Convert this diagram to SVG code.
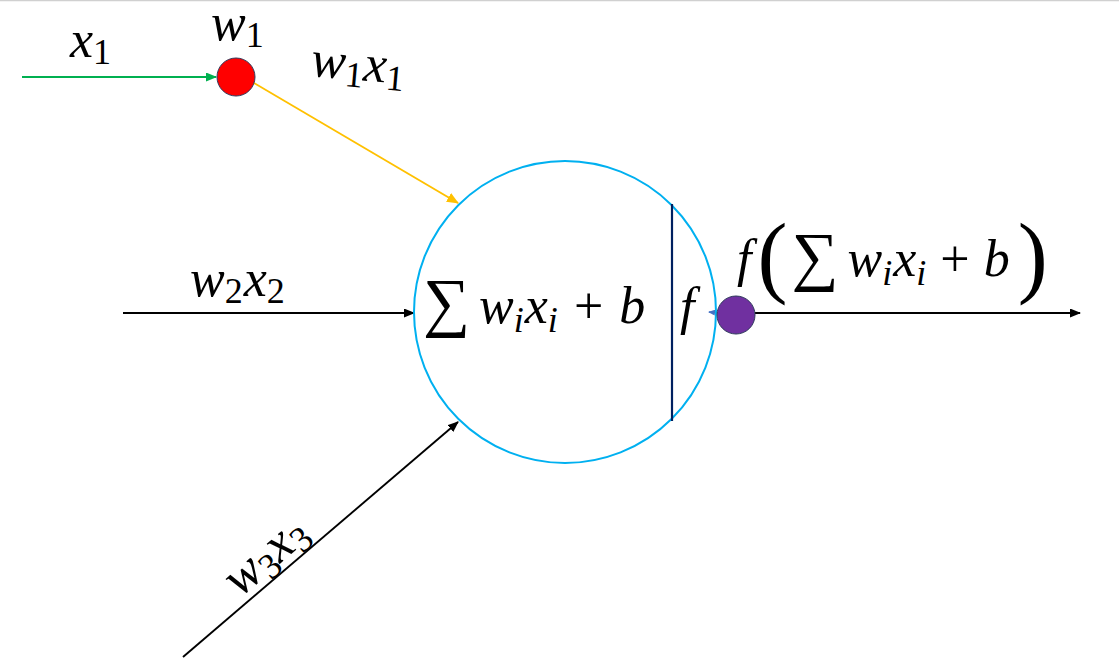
<svg xmlns="http://www.w3.org/2000/svg" width="1119" height="668" viewBox="0 0 1119 668">
<style>
text{font-family:"Liberation Serif","Times New Roman",serif}
.m{font-style:italic;font-size:52px;fill:#000}
.r{font-style:normal}
.s{font-size:36px}
.ln{fill:none;stroke-width:1.9}
</style>
<defs>
<marker id="ak" markerWidth="11" markerHeight="9" refX="10" refY="4.5" orient="auto" markerUnits="userSpaceOnUse"><path d="M0,0 L11,4.5 L0,9 z" fill="#000"/></marker>
<marker id="ag" markerWidth="11" markerHeight="9" refX="10" refY="4.5" orient="auto" markerUnits="userSpaceOnUse"><path d="M0,0 L11,4.5 L0,9 z" fill="#00B050"/></marker>
<marker id="ay" markerWidth="12" markerHeight="10" refX="11" refY="5" orient="auto" markerUnits="userSpaceOnUse"><path d="M0,0 L12,5 L0,10 z" fill="#FFC000"/></marker>
<marker id="ab" markerWidth="7" markerHeight="6" refX="6" refY="3" orient="auto" markerUnits="userSpaceOnUse"><path d="M0,0 L7,3 L0,6 z" fill="#4472C4"/></marker>
</defs>
<rect width="1119" height="668" fill="#fff"/>
<line x1="0" y1="0.5" x2="1119" y2="0.5" stroke="#d0d0d0" stroke-width="1.5"/>
<g id="connectors">
<line class="ln" x1="22" y1="77" x2="216" y2="77" stroke="#00B050" marker-end="url(#ag)"/>
<line class="ln" x1="254" y1="83" x2="458" y2="203" stroke="#FFC000" marker-end="url(#ay)"/>
<line class="ln" x1="123" y1="313" x2="414" y2="313" stroke="#000" marker-end="url(#ak)"/>
<line class="ln" x1="183" y1="657" x2="458" y2="422" stroke="#000" marker-end="url(#ak)"/>
<line class="ln" x1="755" y1="313" x2="1080" y2="313" stroke="#000" marker-end="url(#ak)"/>
<line x1="719" y1="313" x2="709" y2="312" stroke="#4472C4" stroke-width="1.5" marker-end="url(#ab)"/>
</g>
<g id="neuron">
<circle cx="565" cy="312" r="151" fill="none" stroke="#00B0F0" stroke-width="2"/>
<line x1="672" y1="204" x2="672" y2="421" stroke="#002060" stroke-width="2.2"/>
<text class="m" x="423" y="323"><tspan class="r" font-size="66px" dy="1">∑</tspan><tspan dx="9" dy="-1">w</tspan><tspan class="s" dy="9">i</tspan><tspan dx="1" dy="-9">x</tspan><tspan class="s" dy="9">i</tspan><tspan class="r" dx="16" dy="-9">+</tspan><tspan dx="16">b</tspan></text>
<text class="m" x="680" y="324">f</text>
</g>
<g id="input1">
<circle cx="236" cy="77" r="19" fill="#FF0000" stroke="#2F3B5C" stroke-width="1"/>
<text class="m" x="70" y="57">x<tspan class="r s" dy="7">1</tspan></text>
<text class="m" x="211" y="40">w<tspan class="r s" dy="7">1</tspan></text>
<text class="m" transform="translate(310,76) rotate(5)">w<tspan class="r s" dy="7">1</tspan><tspan dy="-7">x</tspan><tspan class="r s" dy="7">1</tspan></text>
</g>
<g id="input2">
<text class="m" x="190" y="296">w<tspan class="r s" dy="7">2</tspan><tspan dx="1" dy="-7">x</tspan><tspan class="r s" dy="7">2</tspan></text>
</g>
<g id="input3">
<text class="m" transform="translate(240,598) rotate(-40.5)">w<tspan class="r s" dy="7">3</tspan><tspan dy="-7">x</tspan><tspan class="r s" dy="7">3</tspan></text>
</g>
<g id="output">
<circle cx="736" cy="315" r="19" fill="#7030A0" stroke="#2F3B5C" stroke-width="1"/>
<text class="m" x="737" y="276">f<tspan class="r" font-size="90px" dx="6" dy="10">(</tspan><tspan class="r" font-size="66px" dx="4" dy="-8">∑</tspan><tspan dx="9" dy="-2">w</tspan><tspan class="s" dy="9">i</tspan><tspan dx="1" dy="-9">x</tspan><tspan class="s" dy="9">i</tspan><tspan class="r" dx="14" dy="-9">+</tspan><tspan dx="14">b</tspan><tspan class="r" font-size="90px" dx="8" dy="10">)</tspan></text>
</g>
</svg>
